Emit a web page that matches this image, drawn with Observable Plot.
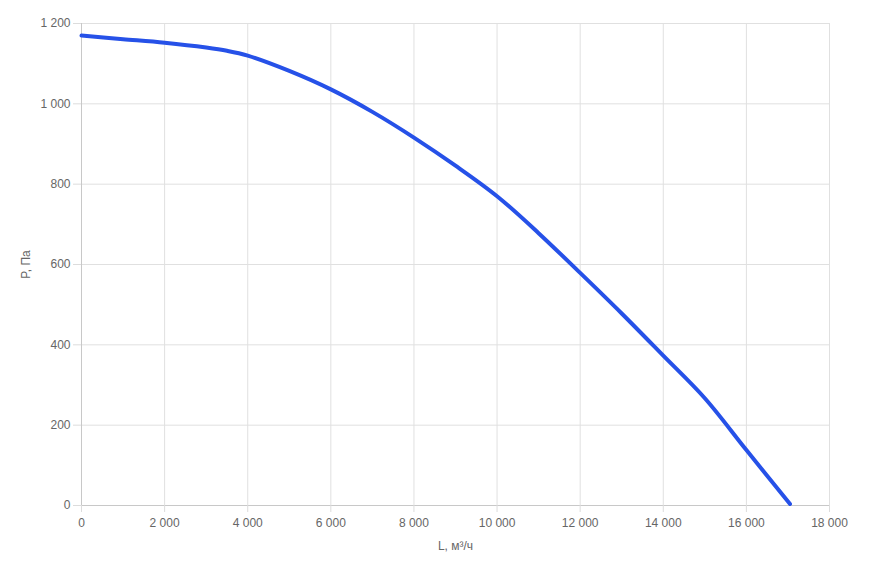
<!DOCTYPE html>
<html>
<head>
<meta charset="utf-8">
<script src="https://cdn.jsdelivr.net/npm/d3@7"></script>
<script src="https://cdn.jsdelivr.net/npm/@observablehq/plot@0.6"></script>
<style>
  html, body { margin: 0; padding: 0; background: #fff; }
  #chart svg { display: block; }
</style>
</head>
<body>
<div id="chart"></div>
<script>
const flow = [0, 1000, 2000, 3000, 3500, 4000, 5000, 6000, 7000, 8000, 9000, 10000, 11000, 12000, 13000, 14000, 15000, 16000, 17050];
const pressure = [1170, 1161, 1152, 1140, 1132, 1120, 1082, 1036, 980, 916, 846, 770, 678, 579, 478, 373, 267, 138, 4];
const xTicks = [0, 2000, 4000, 6000, 8000, 10000, 12000, 14000, 16000, 18000];
const yTicks = [0, 200, 400, 600, 800, 1000, 1200];
const xLabel = "L, м³/ч";
const yLabel = "P, Па";

const data = flow.map((L, i) => ({L, P: pressure[i]}));
const fmt = d => d3.format(",")(d).replace(/,/g, " ");

const chart = Plot.plot({
  width: 870,
  height: 563,
  marginLeft: 81,
  marginRight: 41,
  marginTop: 23,
  marginBottom: 58,
  style: {fontFamily: "'Liberation Sans', Arial, sans-serif", fontSize: "12px", color: "#666", background: "#fff"},
  x: {domain: [0, 18000]},
  y: {domain: [0, 1200]},
  marks: [
    Plot.ruleX(xTicks.filter(d => d > 0), {stroke: "#e0e0e0", strokeOpacity: 1, y1: 0, y2: 1200}),
    Plot.ruleY(yTicks.filter(d => d > 0), {stroke: "#e0e0e0", strokeOpacity: 1, x1: 0, x2: 18000}),
    Plot.ruleX([0], {stroke: "#c8c8c8"}),
    Plot.ruleY([0], {stroke: "#c8c8c8"}),
    Plot.axisX({ticks: xTicks, tickFormat: fmt, tickSize: 7, tickPadding: 6, stroke: "#dcdcdc", strokeOpacity: 1, fill: "#666", fontSize: 12,
      label: xLabel, labelAnchor: "center", labelArrow: "none", labelOffset: 44}),
    Plot.axisY({ticks: yTicks, tickFormat: fmt, tickSize: 8, tickPadding: 3, stroke: "#dcdcdc", strokeOpacity: 1, fill: "#666", fontSize: 12,
      label: yLabel, labelAnchor: "center", labelArrow: "none", labelOffset: 60}),
    Plot.line(data, {x: "L", y: "P", stroke: "#2651e8", strokeWidth: 4, curve: "catmull-rom"})
  ]
});
document.getElementById("chart").appendChild(chart);
</script>
</body>
</html>
